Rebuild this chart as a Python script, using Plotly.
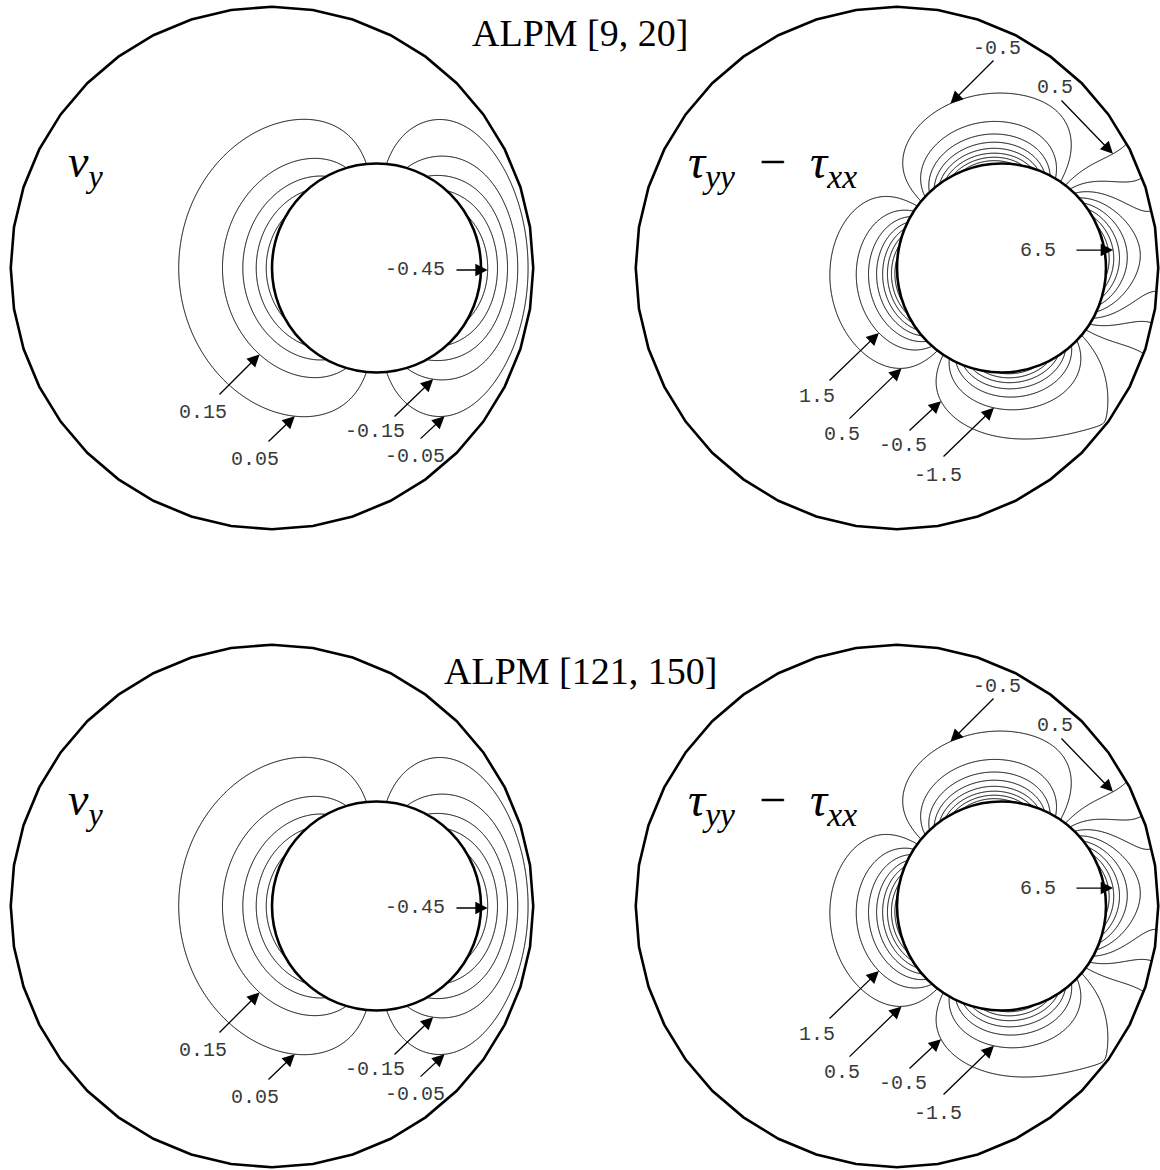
import numpy as np
import plotly.graph_objects as go

# ---------------- geometry (lengths in units of the inner cylinder radius) ----
R_OUT = 2.5      # outer wall radius
A_IN = 1.0       # inner cylinder radius
ECC = 1.0        # offset of the inner cylinder centre along +x
N_WALL = 40      # outer wall is drawn as a 40-sided polygon

# ---------------- runs shown in the two rows ----------------------------------
RUN_TITLES = ["ALPM [9, 20]", "ALPM [121, 150]"]

# v_y model: surface speed of the inner cylinder and decay length
VY_SURFACE_SPEED = [0.52, 0.52]
VY_DECAY = [0.38, 0.38]

# tau_yy - tau_xx model: lobe amplitude, offset, shear decay length,
# tilt of the lobes (deg) and top/bottom amplitude modulation
TAU_AMPLITUDE = [8.1, 8.1]
TAU_OFFSET = [0.3, 0.3]
TAU_DECAY = [0.46, 0.46]
TAU_TILT = [8.0, 8.0]
TAU_MOD = [0.1, 0.1]

# contour levels
VY_LEVELS = dict(start=-0.45, end=0.45, size=0.1)
TAU_LEVELS = dict(start=-9.5, end=9.5, size=1.0)

# labelled contour values
VY_LABELS = ["-0.45", "0.15", "0.05", "-0.15", "-0.05"]
TAU_LABELS = ["-0.5", "0.5", "6.5", "1.5", "0.5", "-0.5", "-1.5"]

# ---------------- label placement (units, relative to the outer-wall centre) --
# (text x, text y, arrow tail x, arrow tail y, arrow direction in degrees)
VY_LABEL_POS = [
    (1.368, -0.019, 1.751, -0.019, 0.0),
    (-0.660, -1.378, -0.517, -1.225, 45.0),
    (-0.163, -1.837, -0.048, -1.675, 44.0),
    (0.986, -1.569, 1.158, -1.435, 44.0),
    (1.368, -1.799, 1.407, -1.646, 43.0),
]
TAU_LABEL_POS = [
    (0.957, 2.105, 0.938, 2.000, 225.0),
    (1.512, 1.732, 1.560, 1.617, -46.0),
    (1.349, 0.172, 1.703, 0.172, 0.0),
    (-0.766, -1.234, -0.660, -1.091, 44.0),
    (-0.526, -1.598, -0.469, -1.455, 44.0),
    (0.057, -1.694, 0.105, -1.569, 43.0),
    (0.392, -1.981, 0.431, -1.818, 44.0),
]

# ---------------- page layout ----------------------------------------------
W, H = 1160, 1170
SCALE = 104.5                       # pixels per unit length
COL_X = [(0, 580), (580, 1160)]     # pixel boxes of the columns
ROW_Y = [(0, 585), (585, 1170)]     # pixel boxes of the rows
CENTRE_X = [272, 897]               # outer-wall centre, pixels
CENTRE_Y = [268, 906]
NAME_X = [66, 686]                  # left edge of the field names, pixels
NAME_DY = 103                       # field names sit this far above the centre
TITLE_Y = [33, 671]


def inner_polar(X, Y):
    dx = X - ECC
    dy = Y
    r = np.maximum(np.hypot(dx, dy), 1e-9)
    return dx, dy, r


def wall_gap(cx, cy):
    """Distance from the inner surface to the outer wall along a ray."""
    b = ECC * cx
    t = -b + np.sqrt(b * b - ECC ** 2 + R_OUT ** 2)
    return t - A_IN


def vy_field(X, Y, U, L0):
    dx, dy, r = inner_polar(X, Y)
    c, s = dx / r, dy / r
    gap = wall_gap(c, s)
    delta = np.clip(r - A_IN, 0.0, None)
    L = L0 * (1.0 + 6.0 * (L0 / gap) ** 4)
    F = np.sinh((gap - delta) / L) / np.sinh(gap / L)
    return -U * c * F


def tau_field(X, Y, B, C, L, tilt, mod):
    dx, dy, r = inner_polar(X, Y)
    c, s = dx / r, dy / r
    theta = np.arctan2(dy, dx)
    gap = wall_gap(c, s)
    delta = np.clip(r - A_IN, 0.0, None)
    amp = B * (1.0 + mod * s) * np.cos(2.0 * (theta - np.radians(tilt))) + C
    G = (np.cosh((gap - delta) / L) / np.cosh(gap / L)) ** 2
    return amp * G


def arrow_head(fn, tx, ty, ang, level, step=0.003, max_len=1.1):
    d = np.array([np.cos(np.radians(ang)), np.sin(np.radians(ang))])
    t = np.arange(0.0, max_len, step)
    px, py = tx + t * d[0], ty + t * d[1]
    vals = fn(px, py) - level
    sg = np.sign(vals)
    idx = np.where(sg[1:] != sg[:-1])[0]
    if len(idx) == 0:
        return tx + 0.4 * d[0], ty + 0.4 * d[1]
    i = idx[0]
    f = vals[i] / (vals[i] - vals[i + 1])
    return px[i] + f * (px[i + 1] - px[i]), py[i] + f * (py[i + 1] - py[i])


gx = np.linspace(-2.62, 2.62, 440)
gy = np.linspace(-2.62, 2.62, 440)
GX, GY = np.meshgrid(gx, gy)

wall_ang = np.radians(90.0 + 360.0 / N_WALL * np.arange(N_WALL))
wall_x = R_OUT * np.cos(wall_ang)
wall_y = R_OUT * np.sin(wall_ang)


def poly_path(xs, ys):
    pts = " L ".join(f"{x:.4f},{y:.4f}" for x, y in zip(xs, ys))
    return f"M {pts} Z"


fig = go.Figure()
shapes = []
annotations = []

LINE_BLACK = [[0, "black"], [1, "black"]]
MONO = dict(family="Liberation Mono, Courier New, monospace", size=20, color="#3a3a3a")
SERIF = "Liberation Serif, Times New Roman, serif"

panel = 0
for row in range(2):
    for col in range(2):
        panel += 1
        xa = "x" if panel == 1 else f"x{panel}"
        ya = "y" if panel == 1 else f"y{panel}"
        x0, x1 = COL_X[col]
        y0, y1 = ROW_Y[row]
        cx, cy = CENTRE_X[col], CENTRE_Y[row]
        xr = [(x0 - cx) / SCALE, (x1 - cx) / SCALE]
        yr = [(cy - y1) / SCALE, (cy - y0) / SCALE]
        suffix = "" if panel == 1 else str(panel)
        fig.layout[f"xaxis{suffix}"] = dict(domain=[x0 / W, x1 / W], range=xr,
                                            visible=False, fixedrange=True)
        fig.layout[f"yaxis{suffix}"] = dict(domain=[1 - y1 / H, 1 - y0 / H], range=yr,
                                            visible=False, fixedrange=True)

        if col == 0:
            U, L0 = VY_SURFACE_SPEED[row], VY_DECAY[row]
            fn = (lambda X, Y, U=U, L0=L0: vy_field(X, Y, U, L0))
            levels = VY_LEVELS
            labels, pos = VY_LABELS, VY_LABEL_POS
        else:
            pars = (TAU_AMPLITUDE[row], TAU_OFFSET[row], TAU_DECAY[row],
                    TAU_TILT[row], TAU_MOD[row])
            fn = (lambda X, Y, p=pars: tau_field(X, Y, *p))
            levels = TAU_LEVELS
            labels, pos = TAU_LABELS, TAU_LABEL_POS

        Z = fn(GX, GY).astype(np.float32)
        fig.add_trace(go.Contour(
            x=gx, y=gy, z=Z, xaxis=xa, yaxis=ya,
            contours=dict(coloring="lines", showlabels=False, **levels),
            autocontour=False, colorscale=LINE_BLACK, showscale=False,
            line=dict(width=1.0, color="black", smoothing=0.6),
            hoverinfo="skip"))

        # white mask outside the outer wall
        rect = poly_path([xr[0], xr[1], xr[1], xr[0]], [yr[0], yr[0], yr[1], yr[1]])
        shapes.append(dict(type="path", xref=xa, yref=ya, layer="above",
                           path=rect + " " + poly_path(wall_x, wall_y),
                           fillcolor="white", fillrule="evenodd",
                           line=dict(width=0)))
        # outer wall
        shapes.append(dict(type="path", xref=xa, yref=ya, layer="above",
                           path=poly_path(wall_x, wall_y),
                           line=dict(color="black", width=2.6)))
        # inner cylinder
        shapes.append(dict(type="circle", xref=xa, yref=ya, layer="above",
                           x0=ECC - A_IN, x1=ECC + A_IN, y0=-A_IN, y1=A_IN,
                           fillcolor="white", line=dict(color="black", width=2.6)))

        # contour labels with arrows pointing at the labelled contour
        for lab, (tx, ty, ax, ay, ang) in zip(labels, pos):
            hx, hy = arrow_head(fn, ax, ay, ang, float(lab))
            annotations.append(dict(x=hx, y=hy, ax=ax, ay=ay, xref=xa, yref=ya,
                                    axref=xa, ayref=ya, text="", showarrow=True,
                                    arrowhead=2, arrowsize=1.9, arrowwidth=1.3,
                                    arrowcolor="black", standoff=0))
            annotations.append(dict(x=tx, y=ty, xref=xa, yref=ya, text=lab,
                                    showarrow=False, font=MONO,
                                    xanchor="center", yanchor="middle"))

        # field name
        if col == 0:
            name = "<i>v</i><sub><i>y</i></sub>"
            fsize = 46
        else:
            name = ("<i>τ</i><sub><i>yy</i></sub>\u2002−\u2002"
                    "<i>τ</i><sub><i>xx</i></sub>")
            fsize = 48
        annotations.append(dict(x=(NAME_X[col] - cx) / SCALE, y=NAME_DY / SCALE,
                                xref=xa, yref=ya, text=name, showarrow=False,
                                xanchor="left", yanchor="middle",
                                font=dict(family=SERIF, size=fsize, color="black")))

# run titles
for row in range(2):
    annotations.append(dict(x=0.5, y=1 - TITLE_Y[row] / H, xref="paper", yref="paper",
                            text=RUN_TITLES[row], showarrow=False,
                            xanchor="center", yanchor="middle",
                            font=dict(family=SERIF, size=38, color="black")))

fig.update_layout(width=W, height=H, autosize=False,
                  margin=dict(l=0, r=0, t=0, b=0, pad=0),
                  paper_bgcolor="white", plot_bgcolor="white",
                  showlegend=False, shapes=shapes, annotations=annotations)

fig.write_html("out.html")
